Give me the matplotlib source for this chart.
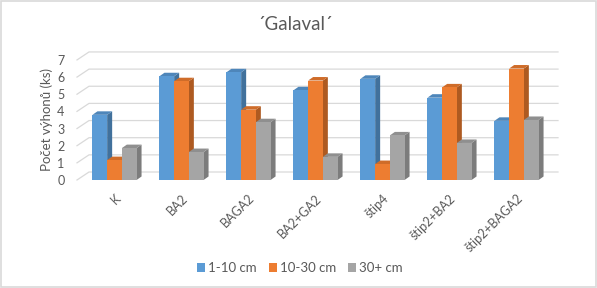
import matplotlib
matplotlib.use("Agg")
import matplotlib.pyplot as plt
from matplotlib.patches import Polygon, Rectangle
from matplotlib.transforms import blended_transform_factory

plt.rcParams["font.family"] = ["Lato", "DejaVu Sans"]

categories = ["K", "BA2", "BAGA2", "BA2+GA2", "štip4", "štip2+BA2", "štip2+BAGA2"]
series_names = ["1-10 cm", "10-30 cm", "30+ cm"]
s_small = [3.8, 6.05, 6.28, 5.23, 5.9, 4.8, 3.45]
s_mid = [1.16, 5.76, 4.1, 5.8, 0.93, 5.4, 6.5]
s_big = [1.86, 1.63, 3.37, 1.35, 2.6, 2.16, 3.5]
yticks = [0, 1, 2, 3, 4, 5, 6, 7]

front = ["#5B9BD5", "#ED7D31", "#A5A5A5"]
side = ["#41719C", "#AE5A21", "#7C7C7C"]
top = ["#4E86BA", "#CF6C29", "#8F8F8F"]
text_col = "#595959"
grid_col = "#D9D9D9"

W, H = 597, 288
fig = plt.figure(figsize=(W / 100, H / 100), dpi=100)

# pixel geometry of the front plane
px_left, px_right = 77, 546
px_base, px_unit = 180, 17.15
px_group = 67
cx0 = 114.5
ax = fig.add_axes([px_left / W, (H - px_base) / H,
                   (px_right - px_left) / W, 7 * px_unit / H])
xl = (px_left - cx0) / px_group
xr = (px_right - cx0) / px_group
ax.set_xlim(xl, xr)
ax.set_ylim(0, 7)
for sp in ax.spines.values():
    sp.set_visible(False)
ax.set_xticks([])
ax.set_yticks(yticks)
ax.tick_params(axis="y", length=0, pad=9, labelsize=9, labelcolor=text_col)

# back wall gridlines with a slanted left side
gdx = 12 / px_group
gdy = 8 / px_unit
x_back_end = (558 - cx0) / px_group
for v in yticks:
    ax.plot([xl, xl + gdx, x_back_end], [v, v + gdy, v + gdy],
            color=grid_col, lw=0.9, clip_on=False, zorder=1)

# bars with fake depth
bw = 14.7 / px_group
ddx = 5 / px_group
ddy = 3.5 / px_unit
series = [s_small, s_mid, s_big]
for i in range(len(categories)):
    for j, vals in enumerate(series):
        v = vals[i]
        x0 = i + (j - 1) * bw - bw / 2
        x1 = x0 + bw
        z = 2 + i * 10 + j * 3
        ax.add_patch(Polygon([(x1, 0), (x1 + ddx, ddy), (x1 + ddx, v + ddy), (x1, v)],
                             closed=True, fc=side[j], ec="none", zorder=z))
        ax.add_patch(Polygon([(x0, v), (x1, v), (x1 + ddx, v + ddy), (x0 + ddx, v + ddy)],
                             closed=True, fc=top[j], ec="none", zorder=z + 1))
        ax.bar(i + (j - 1) * bw, v, width=bw, color=front[j], zorder=z + 2,
               label=series_names[j] if i == 0 else None)

# category labels
trans = blended_transform_factory(ax.transData, fig.transFigure)
for i, c in enumerate(categories):
    ax.text(i, (H - 192) / H, c, transform=trans, rotation=45, ha="right", va="top",
            rotation_mode="anchor", fontsize=9, color=text_col)

ax.set_ylabel("Počet výhonů (ks)", fontsize=9.5, color=text_col, labelpad=3)

fig.text(295 / W, 1 - 25 / H, "´Galaval´", ha="center", va="center",
         fontsize=13.5, color=text_col)

handles = [Rectangle((0, 0), 1, 1, fc=c, ec="none") for c in front]
fig.legend(handles, series_names, loc="center", bbox_to_anchor=(300 / W, 1 - 268 / H),
           ncol=3, frameon=False, fontsize=9.5, handlelength=0.6, handleheight=0.6,
           handletextpad=0.25, columnspacing=0.9, labelcolor=text_col)

fig.patches.append(Rectangle((0.002, 0.003), 0.996, 0.994, transform=fig.transFigure,
                             fill=False, ec=grid_col, lw=1.2))

fig.savefig("out.png", dpi=100)
